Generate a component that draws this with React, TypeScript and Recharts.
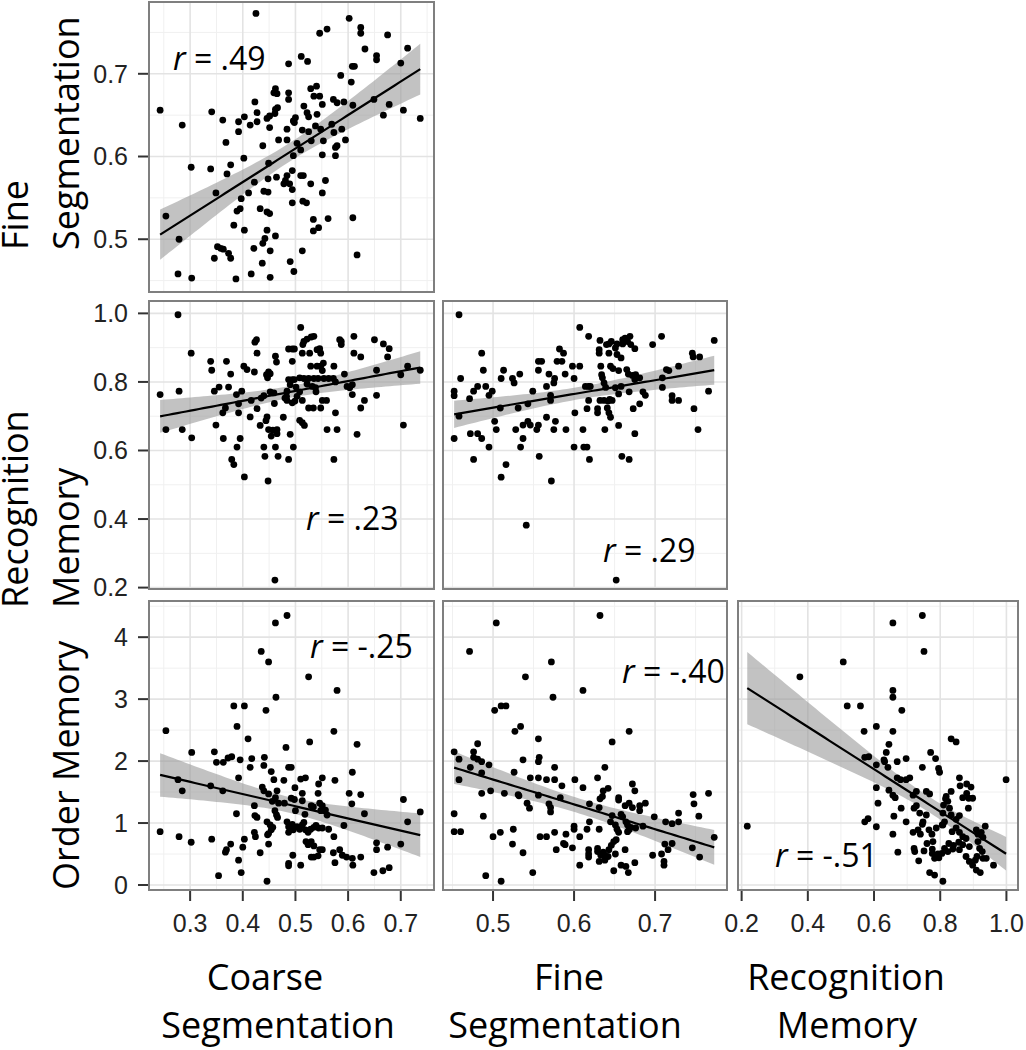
import React from 'react';
import { ComposedChart, Scatter, Line, Area, XAxis, YAxis, CartesianGrid } from 'recharts';

// ---------- tick values ----------
const coarseTicks = [0.3, 0.4, 0.5, 0.6, 0.7];
const coarseMinor = [0.25, 0.35, 0.45, 0.55, 0.65, 0.75];
const fineTicks = [0.5, 0.6, 0.7];
const fineMinor = [0.45, 0.55, 0.65, 0.75];
const recogTicks = [0.2, 0.4, 0.6, 0.8, 1.0];
const recogMinor = [0.3, 0.5, 0.7, 0.9];
const orderTicks = [0, 1, 2, 3, 4];
const orderMinor = [0.5, 1.5, 2.5, 3.5, 4.5];

// ---------- correlation labels ----------
const rLabels = ['.49', '.23', '.29', '-.25', '-.40', '-.51'];

// ---------- axis titles ----------
const colTitles = [['Coarse', 'Segmentation'], ['Fine', 'Segmentation'], ['Recognition', 'Memory']];
const rowTitles = [['Fine', 'Segmentation'], ['Recognition', 'Memory'], ['', 'Order Memory']];

// ---------- data: [x, y] ----------
const coarseFine: [number, number][] = [
  [0.425,0.773],[0.602,0.767],[0.624,0.756],[0.624,0.749],[0.560,0.754],[0.546,0.749],[0.675,0.747],[0.713,0.731],[0.632,0.730],[0.511,0.721],[0.523,0.715],[0.487,0.712],[0.654,0.722],[0.654,0.717],[0.700,0.713],[0.608,0.709],[0.612,0.709],[0.586,0.698],[0.606,0.690],[0.462,0.682],[0.459,0.677],[0.465,0.676],[0.487,0.677],[0.487,0.669],[0.529,0.682],[0.540,0.685],[0.535,0.673],[0.546,0.673],[0.551,0.663],[0.572,0.669],[0.579,0.665],[0.592,0.666],[0.609,0.662],[0.649,0.669],[0.678,0.663],[0.667,0.650],[0.705,0.656],[0.737,0.646],[0.243,0.656],[0.341,0.654],[0.285,0.638],[0.362,0.644],[0.392,0.642],[0.403,0.648],[0.423,0.666],[0.427,0.653],[0.414,0.638],[0.427,0.642],[0.446,0.646],[0.451,0.649],[0.462,0.657],[0.466,0.659],[0.461,0.652],[0.451,0.635],[0.392,0.630],[0.368,0.617],[0.438,0.613],[0.468,0.620],[0.484,0.633],[0.484,0.620],[0.496,0.643],[0.500,0.647],[0.498,0.641],[0.516,0.661],[0.522,0.653],[0.525,0.648],[0.513,0.632],[0.525,0.630],[0.530,0.619],[0.541,0.651],[0.538,0.637],[0.548,0.633],[0.553,0.619],[0.569,0.639],[0.573,0.629],[0.588,0.633],[0.595,0.620],[0.576,0.611],[0.576,0.601],[0.579,0.613],[0.503,0.616],[0.510,0.608],[0.496,0.601],[0.551,0.602],[0.302,0.587],[0.339,0.585],[0.370,0.579],[0.377,0.590],[0.402,0.598],[0.449,0.592],[0.494,0.583],[0.484,0.577],[0.481,0.571],[0.478,0.567],[0.489,0.567],[0.510,0.577],[0.515,0.577],[0.448,0.573],[0.464,0.575],[0.529,0.567],[0.557,0.571],[0.494,0.560],[0.551,0.556],[0.349,0.556],[0.422,0.569],[0.411,0.556],[0.440,0.558],[0.448,0.557],[0.397,0.549],[0.389,0.534],[0.395,0.537],[0.433,0.537],[0.446,0.533],[0.451,0.531],[0.494,0.544],[0.514,0.546],[0.521,0.544],[0.254,0.528],[0.534,0.524],[0.562,0.525],[0.609,0.526],[0.383,0.517],[0.403,0.511],[0.446,0.511],[0.462,0.504],[0.534,0.510],[0.544,0.514],[0.279,0.500],[0.442,0.501],[0.438,0.495],[0.352,0.491],[0.358,0.489],[0.363,0.488],[0.373,0.483],[0.377,0.477],[0.346,0.477],[0.421,0.489],[0.452,0.486],[0.513,0.486],[0.617,0.481],[0.437,0.471],[0.490,0.473],[0.497,0.461],[0.277,0.458],[0.303,0.453],[0.387,0.452],[0.416,0.458],[0.452,0.454],
];

const coarseRecog: [number, number][] = [
  [0.277,0.996],[0.302,0.884],[0.243,0.763],[0.279,0.773],[0.254,0.661],[0.285,0.661],[0.303,0.637],[0.339,0.860],[0.341,0.834],[0.369,0.860],[0.377,0.823],[0.346,0.773],[0.355,0.785],[0.349,0.674],[0.362,0.710],[0.367,0.724],[0.373,0.785],[0.363,0.635],[0.388,0.763],[0.398,0.773],[0.392,0.736],[0.392,0.710],[0.395,0.635],[0.389,0.610],[0.379,0.574],[0.383,0.559],[0.403,0.523],[0.402,0.846],[0.408,0.836],[0.422,0.829],[0.423,0.916],[0.426,0.923],[0.427,0.884],[0.416,0.746],[0.414,0.698],[0.427,0.722],[0.435,0.753],[0.440,0.760],[0.452,0.771],[0.459,0.768],[0.445,0.821],[0.449,0.829],[0.447,0.812],[0.452,0.824],[0.462,0.875],[0.464,0.858],[0.460,0.737],[0.433,0.673],[0.444,0.687],[0.446,0.698],[0.449,0.661],[0.454,0.642],[0.457,0.659],[0.465,0.661],[0.465,0.649],[0.462,0.610],[0.440,0.610],[0.442,0.583],[0.448,0.511],[0.467,0.583],[0.477,0.697],[0.487,0.574],[0.490,0.647],[0.496,0.610],[0.487,0.896],[0.494,0.896],[0.498,0.896],[0.494,0.860],[0.510,0.959],[0.514,0.909],[0.516,0.918],[0.522,0.925],[0.530,0.931],[0.535,0.933],[0.513,0.884],[0.527,0.884],[0.541,0.894],[0.546,0.897],[0.548,0.884],[0.529,0.846],[0.541,0.846],[0.548,0.846],[0.553,0.855],[0.551,0.833],[0.487,0.807],[0.494,0.807],[0.498,0.807],[0.508,0.812],[0.516,0.810],[0.525,0.810],[0.535,0.810],[0.543,0.810],[0.554,0.810],[0.563,0.810],[0.572,0.810],[0.576,0.800],[0.490,0.792],[0.501,0.785],[0.508,0.771],[0.522,0.794],[0.532,0.787],[0.538,0.783],[0.539,0.771],[0.484,0.773],[0.483,0.758],[0.480,0.753],[0.484,0.746],[0.494,0.739],[0.499,0.744],[0.513,0.746],[0.503,0.758],[0.525,0.724],[0.534,0.724],[0.548,0.724],[0.551,0.746],[0.559,0.746],[0.508,0.688],[0.513,0.681],[0.517,0.673],[0.560,0.661],[0.579,0.661],[0.576,0.710],[0.573,0.574],[0.573,0.846],[0.584,0.923],[0.587,0.918],[0.587,0.909],[0.611,0.933],[0.611,0.884],[0.624,0.873],[0.593,0.823],[0.598,0.787],[0.603,0.783],[0.608,0.792],[0.608,0.763],[0.624,0.724],[0.631,0.746],[0.617,0.647],[0.650,0.923],[0.667,0.911],[0.678,0.897],[0.675,0.873],[0.654,0.834],[0.654,0.761],[0.700,0.821],[0.713,0.846],[0.737,0.834],[0.705,0.674],[0.461,0.222],
];

const fineRecog: [number, number][] = [
  [0.458,0.996],[0.452,0.773],[0.452,0.760],[0.460,0.810],[0.458,0.700],[0.452,0.635],[0.471,0.751],[0.476,0.773],[0.481,0.787],[0.491,0.787],[0.495,0.761],[0.499,0.773],[0.486,0.884],[0.488,0.834],[0.472,0.649],[0.481,0.649],[0.486,0.635],[0.495,0.610],[0.476,0.574],[0.502,0.685],[0.504,0.661],[0.509,0.724],[0.510,0.810],[0.513,0.834],[0.524,0.810],[0.526,0.797],[0.533,0.823],[0.516,0.559],[0.510,0.522],[0.528,0.661],[0.531,0.724],[0.537,0.674],[0.537,0.635],[0.534,0.610],[0.543,0.685],[0.546,0.674],[0.549,0.773],[0.543,0.736],[0.556,0.834],[0.556,0.860],[0.560,0.860],[0.556,0.674],[0.554,0.661],[0.557,0.583],[0.541,0.382],[0.569,0.823],[0.571,0.761],[0.571,0.746],[0.566,0.787],[0.575,0.797],[0.576,0.810],[0.566,0.697],[0.577,0.685],[0.575,0.661],[0.572,0.511],[0.579,0.860],[0.585,0.860],[0.582,0.896],[0.587,0.884],[0.589,0.823],[0.590,0.661],[0.598,0.846],[0.600,0.810],[0.601,0.710],[0.600,0.610],[0.607,0.959],[0.607,0.846],[0.611,0.661],[0.612,0.610],[0.616,0.610],[0.619,0.574],[0.614,0.787],[0.618,0.787],[0.618,0.746],[0.616,0.722],[0.620,0.787],[0.618,0.933],[0.632,0.921],[0.631,0.894],[0.631,0.884],[0.633,0.846],[0.634,0.821],[0.635,0.812],[0.637,0.797],[0.639,0.784],[0.632,0.746],[0.629,0.722],[0.629,0.710],[0.637,0.746],[0.642,0.744],[0.644,0.749],[0.641,0.724],[0.643,0.710],[0.645,0.697],[0.647,0.746],[0.638,0.661],[0.640,0.909],[0.643,0.911],[0.646,0.918],[0.643,0.884],[0.645,0.846],[0.648,0.839],[0.651,0.899],[0.653,0.880],[0.653,0.911],[0.655,0.833],[0.658,0.870],[0.660,0.911],[0.660,0.923],[0.663,0.928],[0.666,0.918],[0.669,0.933],[0.670,0.909],[0.675,0.897],[0.665,0.836],[0.667,0.823],[0.672,0.819],[0.676,0.821],[0.675,0.807],[0.681,0.812],[0.651,0.783],[0.655,0.765],[0.658,0.787],[0.668,0.771],[0.673,0.722],[0.681,0.736],[0.685,0.771],[0.688,0.761],[0.655,0.673],[0.659,0.583],[0.668,0.574],[0.675,0.649],[0.697,0.909],[0.708,0.933],[0.709,0.812],[0.709,0.784],[0.714,0.836],[0.717,0.833],[0.721,0.760],[0.721,0.746],[0.729,0.746],[0.729,0.846],[0.746,0.884],[0.747,0.873],[0.755,0.873],[0.748,0.722],[0.753,0.661],[0.766,0.773],[0.773,0.921],[0.652,0.222],
];

const coarseOrder: [number, number][] = [
  [0.484,4.35],[0.462,4.23],[0.435,3.77],[0.449,3.60],[0.525,3.36],[0.579,3.14],[0.463,3.03],[0.383,2.89],[0.403,2.89],[0.444,2.82],[0.389,2.56],[0.254,2.49],[0.573,2.48],[0.410,2.36],[0.527,2.31],[0.617,2.27],[0.482,2.22],[0.303,2.14],[0.346,2.15],[0.350,1.98],[0.363,1.98],[0.372,2.05],[0.379,2.07],[0.395,2.02],[0.417,2.04],[0.441,2.06],[0.414,1.90],[0.440,1.93],[0.392,1.73],[0.454,1.83],[0.487,1.90],[0.492,1.90],[0.277,1.70],[0.285,1.52],[0.339,1.60],[0.362,1.52],[0.459,1.70],[0.478,1.69],[0.510,1.71],[0.519,1.73],[0.551,1.73],[0.575,1.69],[0.437,1.58],[0.440,1.52],[0.449,1.47],[0.465,1.52],[0.462,1.41],[0.499,1.57],[0.513,1.48],[0.544,1.63],[0.543,1.48],[0.608,1.82],[0.602,1.48],[0.624,1.46],[0.456,1.35],[0.468,1.32],[0.479,1.32],[0.492,1.40],[0.498,1.38],[0.513,1.36],[0.530,1.28],[0.534,1.26],[0.546,1.32],[0.551,1.28],[0.557,1.21],[0.548,1.20],[0.560,1.13],[0.607,1.31],[0.631,1.15],[0.422,1.28],[0.500,1.20],[0.423,1.12],[0.427,1.09],[0.461,1.20],[0.464,1.13],[0.466,1.09],[0.388,1.15],[0.518,1.14],[0.446,1.02],[0.484,1.02],[0.487,0.94],[0.494,0.98],[0.496,0.89],[0.503,0.94],[0.508,0.90],[0.513,0.97],[0.516,1.01],[0.519,0.89],[0.524,0.85],[0.529,0.90],[0.535,0.93],[0.539,0.96],[0.544,0.92],[0.551,0.92],[0.563,0.90],[0.592,0.96],[0.243,0.86],[0.279,0.78],[0.302,0.69],[0.341,0.74],[0.403,0.74],[0.422,0.85],[0.424,0.78],[0.452,0.97],[0.457,0.93],[0.454,0.89],[0.449,0.83],[0.447,0.81],[0.487,0.85],[0.520,0.70],[0.530,0.70],[0.535,0.63],[0.524,0.65],[0.546,0.57],[0.551,0.57],[0.530,0.45],[0.535,0.45],[0.543,0.47],[0.573,0.78],[0.377,0.66],[0.369,0.57],[0.367,0.53],[0.400,0.61],[0.433,0.52],[0.449,0.66],[0.495,0.48],[0.487,0.35],[0.487,0.31],[0.510,0.32],[0.572,0.52],[0.575,0.36],[0.584,0.57],[0.589,0.48],[0.597,0.45],[0.608,0.43],[0.624,0.45],[0.609,0.32],[0.654,0.68],[0.654,0.57],[0.675,0.61],[0.700,0.66],[0.705,1.38],[0.713,1.02],[0.737,1.18],[0.392,0.40],[0.354,0.15],[0.397,0.20],[0.446,0.06],[0.649,0.20],[0.666,0.23],[0.678,0.28],
];

const fineOrder: [number, number][] = [
  [0.632,4.35],[0.504,4.23],[0.471,3.77],[0.572,3.60],[0.540,3.36],[0.611,3.14],[0.574,3.03],[0.502,2.82],[0.510,2.89],[0.516,2.89],[0.527,2.48],[0.534,2.56],[0.668,2.48],[0.556,2.36],[0.647,2.31],[0.481,2.28],[0.452,2.15],[0.458,2.03],[0.476,2.15],[0.476,2.06],[0.481,2.03],[0.486,1.99],[0.495,1.94],[0.472,1.90],[0.486,1.81],[0.556,1.99],[0.557,2.06],[0.537,2.02],[0.576,1.90],[0.526,1.82],[0.458,1.70],[0.486,1.48],[0.497,1.52],[0.514,1.48],[0.531,1.46],[0.532,1.44],[0.546,1.73],[0.556,1.73],[0.566,1.70],[0.576,1.70],[0.585,1.60],[0.601,1.70],[0.611,1.57],[0.629,1.73],[0.638,1.90],[0.642,1.56],[0.636,1.52],[0.672,1.63],[0.675,1.52],[0.556,1.45],[0.583,1.41],[0.542,1.32],[0.545,1.24],[0.569,1.31],[0.571,1.25],[0.571,1.18],[0.619,1.31],[0.631,1.25],[0.632,1.39],[0.635,1.43],[0.655,1.41],[0.655,1.37],[0.663,1.28],[0.668,1.32],[0.672,1.25],[0.681,1.28],[0.688,1.32],[0.681,1.20],[0.488,1.11],[0.452,1.15],[0.452,0.86],[0.460,0.86],[0.500,0.78],[0.509,0.85],[0.525,0.90],[0.524,0.66],[0.537,0.52],[0.558,0.78],[0.566,0.78],[0.576,0.85],[0.578,0.57],[0.587,0.67],[0.589,0.65],[0.590,0.82],[0.598,0.60],[0.600,0.95],[0.600,0.90],[0.607,0.78],[0.616,0.90],[0.619,1.02],[0.631,0.90],[0.645,1.02],[0.647,1.12],[0.651,0.97],[0.653,0.90],[0.655,0.85],[0.658,1.14],[0.660,1.10],[0.666,0.97],[0.666,0.86],[0.668,0.89],[0.664,1.02],[0.670,0.93],[0.676,0.92],[0.685,0.95],[0.699,1.10],[0.713,1.02],[0.721,0.99],[0.729,1.02],[0.729,1.16],[0.747,1.46],[0.748,1.31],[0.766,1.48],[0.754,1.11],[0.712,0.66],[0.716,0.57],[0.721,0.67],[0.708,0.50],[0.711,0.38],[0.711,0.32],[0.697,0.48],[0.746,0.60],[0.755,0.45],[0.773,0.77],[0.618,0.57],[0.618,0.50],[0.618,0.45],[0.629,0.59],[0.629,0.54],[0.633,0.48],[0.636,0.53],[0.638,0.48],[0.642,0.46],[0.643,0.57],[0.631,0.38],[0.638,0.40],[0.646,0.64],[0.649,0.70],[0.652,0.73],[0.651,0.50],[0.663,0.57],[0.658,0.32],[0.664,0.30],[0.667,0.20],[0.675,0.36],[0.649,0.23],[0.607,0.32],[0.549,0.20],[0.491,0.15],[0.510,0.06],
];

const recogOrder: [number, number][] = [
  [0.746,4.35],[0.657,4.23],[0.751,3.77],[0.507,3.60],[0.376,3.36],[0.657,3.14],[0.657,3.03],[0.519,2.89],[0.559,2.89],[0.684,2.82],[0.570,2.48],[0.657,2.48],[0.607,2.56],[0.833,2.36],[0.848,2.31],[0.645,2.27],[0.637,2.14],[0.630,2.02],[0.632,1.99],[0.572,2.06],[0.584,2.07],[0.607,1.94],[0.642,1.90],[0.670,1.99],[0.697,2.04],[0.746,1.90],[0.771,2.14],[0.786,2.04],[0.795,1.88],[0.798,1.82],[0.670,1.73],[0.680,1.70],[0.697,1.70],[0.708,1.73],[0.607,1.57],[0.612,1.32],[0.645,1.53],[0.657,1.45],[0.664,1.41],[0.682,1.24],[0.718,1.45],[0.728,1.51],[0.721,1.24],[0.738,1.16],[0.758,1.51],[0.768,1.47],[0.697,1.02],[0.660,1.11],[0.572,1.02],[0.582,1.07],[0.607,0.94],[0.657,0.82],[0.672,0.53],[0.718,0.85],[0.746,0.98],[0.766,0.89],[0.775,0.82],[0.778,0.70],[0.760,0.67],[0.721,0.59],[0.723,0.54],[0.735,0.39],[0.751,0.55],[0.776,0.51],[0.783,0.43],[0.768,0.20],[0.783,0.16],[0.808,0.06],[0.793,0.50],[0.788,0.92],[0.806,0.97],[0.813,1.02],[0.808,1.16],[0.810,1.29],[0.816,1.39],[0.818,1.43],[0.823,1.35],[0.833,1.51],[0.828,1.24],[0.833,1.13],[0.858,1.73],[0.860,1.60],[0.880,1.63],[0.893,1.58],[0.880,1.48],[0.886,1.40],[0.868,1.41],[0.898,1.40],[0.885,1.24],[0.858,1.12],[0.848,1.06],[0.836,0.86],[0.848,0.92],[0.858,0.85],[0.868,0.78],[0.878,0.75],[0.909,0.89],[0.914,0.82],[0.924,0.85],[0.936,0.95],[0.929,0.77],[0.914,0.70],[0.919,0.59],[0.927,0.54],[0.911,0.46],[0.906,0.40],[0.929,0.43],[0.939,0.43],[0.878,0.46],[0.888,0.38],[0.898,0.32],[0.909,0.24],[0.921,0.20],[0.888,0.62],[0.868,0.65],[0.856,0.69],[0.840,0.64],[0.826,0.67],[0.813,0.59],[0.805,0.51],[0.796,0.44],[0.858,0.57],[0.838,0.58],[0.823,0.54],[0.776,0.58],[0.740,0.82],[0.733,0.89],[0.808,0.97],[0.961,0.32],[0.999,1.70],[0.217,0.95],[0.758,1.13],[0.728,1.28],[0.748,1.02],
];

// ---------- linear fit with 95% confidence band (as geom_smooth(method = "lm")) ----------
function lmBand(pts: [number, number][]) {
  const n = pts.length;
  let mx = 0, my = 0;
  pts.forEach(([x, y]) => { mx += x; my += y; });
  mx /= n; my /= n;
  let sxx = 0, sxy = 0;
  pts.forEach(([x, y]) => { sxx += (x - mx) ** 2; sxy += (x - mx) * (y - my); });
  const b = sxy / sxx;
  const a = my - b * mx;
  let sse = 0;
  pts.forEach(([x, y]) => { sse += (y - (a + b * x)) ** 2; });
  const s = Math.sqrt(sse / (n - 2));
  const t = 1.976;
  const xs = pts.map((p) => p[0]);
  const lo = Math.min(...xs), hi = Math.max(...xs);
  const out: { x: number; fit: number; band: [number, number] }[] = [];
  const steps = 60;
  for (let i = 0; i <= steps; i++) {
    const x = lo + ((hi - lo) * i) / steps;
    const f = a + b * x;
    const se = s * Math.sqrt(1 / n + (x - mx) ** 2 / sxx);
    out.push({ x, fit: f, band: [f - t * se, f + t * se] });
  }
  return out;
}

type PanelCfg = {
  pts: [number, number][];
  left: number; top: number; width: number; height: number;
  xDomain: [number, number]; yDomain: [number, number];
  xTicks: number[]; xMinor: number[]; yTicks: number[]; yMinor: number[];
  showX: boolean; showY: boolean;
  xFmt: (v: number) => string; yFmt: (v: number) => string;
};

const fmt1 = (v: number) => v.toFixed(1);
const fmt0 = (v: number) => String(Math.round(v));

const coarseDom: [number, number] = [0.22, 0.765];
const fineDomX: [number, number] = [0.437, 0.79];
const fineDomY: [number, number] = [0.435, 0.788];
const recogDomX: [number, number] = [0.186, 1.038];
const recogDomY: [number, number] = [0.193, 1.039];
const orderDom: [number, number] = [-0.097, 4.6];

const panels: PanelCfg[] = [
  { pts: coarseFine, left: 148, top: 1, width: 287, height: 292, xDomain: coarseDom, yDomain: fineDomY,
    xTicks: coarseTicks, xMinor: coarseMinor, yTicks: fineTicks, yMinor: fineMinor, showX: false, showY: true, xFmt: fmt1, yFmt: fmt1 },
  { pts: coarseRecog, left: 148, top: 300, width: 287, height: 290, xDomain: coarseDom, yDomain: recogDomY,
    xTicks: coarseTicks, xMinor: coarseMinor, yTicks: recogTicks, yMinor: recogMinor, showX: false, showY: true, xFmt: fmt1, yFmt: fmt1 },
  { pts: fineRecog, left: 442, top: 300, width: 286, height: 290, xDomain: fineDomX, yDomain: recogDomY,
    xTicks: fineTicks, xMinor: fineMinor, yTicks: recogTicks, yMinor: recogMinor, showX: false, showY: false, xFmt: fmt1, yFmt: fmt1 },
  { pts: coarseOrder, left: 148, top: 600, width: 287, height: 291, xDomain: coarseDom, yDomain: orderDom,
    xTicks: coarseTicks, xMinor: coarseMinor, yTicks: orderTicks, yMinor: orderMinor, showX: true, showY: true, xFmt: fmt1, yFmt: fmt0 },
  { pts: fineOrder, left: 442, top: 600, width: 286, height: 291, xDomain: fineDomX, yDomain: orderDom,
    xTicks: fineTicks, xMinor: fineMinor, yTicks: orderTicks, yMinor: orderMinor, showX: true, showY: false, xFmt: fmt1, yFmt: fmt0 },
  { pts: recogOrder, left: 737, top: 600, width: 282, height: 291, xDomain: recogDomX, yDomain: orderDom,
    xTicks: recogTicks, xMinor: recogMinor, yTicks: orderTicks, yMinor: orderMinor, showX: true, showY: false, xFmt: fmt1, yFmt: fmt0 },
];

// annotation placement (page pixels: start x, baseline y)
const rPos: [number, number][] = [[173, 70], [306, 530], [603, 562], [310, 658], [622, 683], [775, 867]];

const TICK_FONT = "'Liberation Sans', Arial, Helvetica, sans-serif";
const TITLE_FONT = "'Open Sans', 'Noto Sans', sans-serif";
const PAD = 22; // extra room round each chart so edge tick labels are not clipped

const Dot = (props: any) => {
  const { cx, cy } = props;
  if (cx == null || cy == null) return null;
  return <circle cx={cx} cy={cy} r={3.4} fill="#000" />;
};

function Panel({ cfg }: { cfg: PanelCfg }) {
  const yw = cfg.showY ? 60 : 0;
  const xh = cfg.showX ? 50 : 0;
  const pts = cfg.pts.map(([x, y]) => ({ x, y }));
  const band = lmBand(cfg.pts);
  const w = cfg.width + yw + 2 * PAD;
  const h = cfg.height + xh + 2 * PAD;
  return (
    <div style={{ position: 'absolute', left: cfg.left - yw - PAD, top: cfg.top - PAD, width: w, height: h }}>
      <ComposedChart width={w} height={h} margin={{ top: PAD, right: PAD, bottom: PAD, left: PAD }}>
        <CartesianGrid horizontalValues={cfg.yMinor} verticalValues={cfg.xMinor} stroke="#f0f0f0" strokeWidth={1} />
        <CartesianGrid horizontalValues={cfg.yTicks} verticalValues={cfg.xTicks} stroke="#e3e3e3" strokeWidth={1.6} />
        <XAxis
          type="number" dataKey="x" domain={cfg.xDomain} allowDataOverflow ticks={cfg.xTicks} interval={0}
          hide={!cfg.showX} height={xh || 1} axisLine={false} tickSize={10} tickMargin={13}
          tickLine={{ stroke: '#333', strokeWidth: 2 }}
          tick={{ fontSize: 25, fill: '#222', fontFamily: TICK_FONT }} tickFormatter={cfg.xFmt}
        />
        <YAxis
          type="number" domain={cfg.yDomain} allowDataOverflow ticks={cfg.yTicks} interval={0}
          hide={!cfg.showY} width={yw || 1} axisLine={false} tickSize={10} tickMargin={10}
          tickLine={{ stroke: '#333', strokeWidth: 2 }}
          tick={{ fontSize: 25, fill: '#222', fontFamily: TICK_FONT }} tickFormatter={cfg.yFmt}
        />
        <Area data={band} dataKey="band" type="linear" stroke="none" fill="#999999" fillOpacity={0.6} isAnimationActive={false} />
        <Scatter data={pts} dataKey="y" shape={Dot} isAnimationActive={false} />
        <Line data={band} dataKey="fit" type="linear" dot={false} activeDot={false} stroke="#000" strokeWidth={2.2} isAnimationActive={false} />
      </ComposedChart>
      <div style={{ position: 'absolute', left: yw + PAD, top: PAD, width: cfg.width, height: cfg.height, boxSizing: 'border-box', border: '2px solid #7f7f7f', pointerEvents: 'none' }} />
    </div>
  );
}

const colTitleCenters: [number, number][] = [[265, 278], [569, 565], [846, 847]];
const colTitleBaselines = [990, 1038];
const rowTitleStart = [250, 608, 890];
const rowTitleBaselines = [28, 79];

export default function App() {
  return (
    <div style={{ position: 'absolute', left: 0, top: 0, width: 1026, height: 1050, background: '#fff', overflow: 'hidden' }}>
      {panels.map((p, i) => <Panel key={i} cfg={p} />)}
      <svg width={1026} height={1050} style={{ position: 'absolute', left: 0, top: 0, pointerEvents: 'none' }}>
        {rLabels.map((lab, i) => (
          <text key={'r' + i} x={rPos[i][0]} y={rPos[i][1]} fontFamily={TITLE_FONT} fontSize={32} fill="#000">
            <tspan fontStyle="italic">r</tspan>{' = ' + lab}
          </text>
        ))}
        {colTitles.map((lines, c) => lines.map((ln, k) => (
          <text key={'c' + c + k} x={colTitleCenters[c][k]} y={colTitleBaselines[k]} textAnchor="middle"
            fontFamily={TITLE_FONT} fontSize={36} fill="#000">{ln}</text>
        )))}
        {rowTitles.map((lines, r) => lines.map((ln, k) => ln ? (
          <text key={'rt' + r + k} transform={`translate(${rowTitleBaselines[k]},${rowTitleStart[r]}) rotate(-90)`}
            textAnchor="start" fontFamily={TITLE_FONT} fontSize={36} fill="#000">{ln}</text>
        ) : null))}
      </svg>
    </div>
  );
}
